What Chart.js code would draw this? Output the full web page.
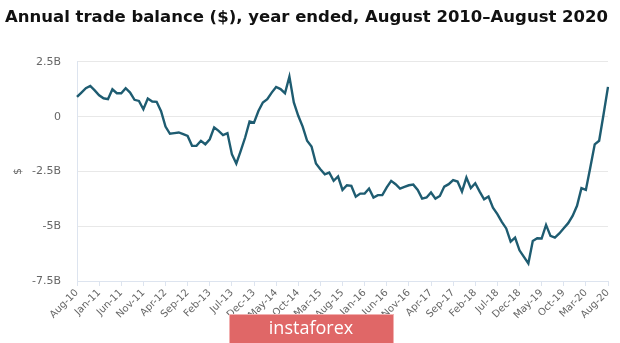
<!DOCTYPE html>
<html>
<head>
<meta charset="utf-8">
<script src="https://cdn.jsdelivr.net/npm/chart.js@4"></script>
<style>
  body { margin: 0; background: #fff; }
  canvas { display: block; }
</style>
</head>
<body>
<canvas id="tradeChart" width="620" height="343"></canvas>
<script>
// Annual trade balance, billions of dollars, one value per month (Aug 2010 .. Aug 2020)
const balance = [
  0.90, 1.10, 1.30, 1.40, 1.20, 0.98, 0.84, 0.80, 1.25, 1.07,
  1.07, 1.30, 1.10, 0.77, 0.72, 0.34, 0.83, 0.69, 0.68, 0.25,
  -0.45, -0.78, -0.75, -0.72, -0.80, -0.88, -1.33, -1.33, -1.10, -1.26,
  -1.03, -0.49, -0.65, -0.84, -0.75, -1.71, -2.14, -1.56, -0.95, -0.22,
  -0.27, 0.26, 0.65, 0.80, 1.10, 1.36, 1.26, 1.07, 1.83, 0.65,
  0.04, -0.45, -1.10, -1.36, -2.14, -2.40, -2.63, -2.55, -2.93, -2.73,
  -3.34, -3.13, -3.16, -3.65, -3.51, -3.51, -3.28, -3.69, -3.58, -3.58,
  -3.23, -2.93, -3.08, -3.28, -3.20, -3.13, -3.10, -3.34, -3.74, -3.69,
  -3.46, -3.74, -3.62, -3.19, -3.08, -2.89, -2.96, -3.42, -2.78, -3.26,
  -3.04, -3.42, -3.77, -3.64, -4.15, -4.45, -4.80, -5.10, -5.70, -5.52,
  -6.10, -6.40, -6.70, -5.67, -5.55, -5.56, -4.94, -5.44, -5.52, -5.33,
  -5.09, -4.86, -4.53, -4.07, -3.26, -3.34, -2.32, -1.26, -1.10, 0.11,
  1.36
];

const monthNames = ['Jan', 'Feb', 'Mar', 'Apr', 'May', 'Jun', 'Jul', 'Aug', 'Sep', 'Oct', 'Nov', 'Dec'];
const yTicks = [-7.5, -5, -2.5, 0, 2.5];

// month labels like "Aug-10"
const months = [];
for (let i = 0; i < balance.length; i++) {
  const m = (7 + i) % 12;
  const y = 10 + Math.floor((7 + i) / 12);
  months.push(monthNames[m] + '-' + String(y).padStart(2, '0'));
}

const axisGrey = '#666';
const axisBlue = '#dde4ef';

// red "instaforex" badge over the bottom axis
const badge = {
  id: 'badge',
  afterDraw(chart) {
    const ctx = chart.ctx;
    ctx.save();
    ctx.fillStyle = '#e06767';
    ctx.fillRect(229, 314, 165, 30);
    ctx.strokeStyle = '#f2b0b0';
    ctx.lineWidth = 1;
    ctx.strokeRect(229.5, 314.5, 164, 30);
    ctx.fillStyle = '#fff';
    ctx.font = '18px "Open Sans"';
    ctx.textAlign = 'center';
    ctx.textBaseline = 'middle';
    ctx.fillText('instaforex', 311, 329);
    ctx.restore();
  }
};

const ctx = document.getElementById('tradeChart').getContext('2d');
const tradeChart = new Chart(ctx, {
  type: 'line',
  data: {
    labels: months,
    datasets: [{
      data: balance,
      borderColor: '#1e5c71',
      borderWidth: 2.4,
      pointRadius: 0,
      fill: false,
      tension: 0
    }]
  },
  options: {
    responsive: false,
    animation: false,
    layout: { padding: { left: 5, right: 12, top: 0, bottom: 0 } },
    plugins: {
      legend: { display: false },
      tooltip: { enabled: false },
      title: {
        display: true,
        text: 'Annual trade balance ($), year ended, August 2010–August 2020',
        align: 'start',
        color: '#111',
        font: { family: 'DejaVu Sans', weight: 'bold', size: 16.6 },
        padding: { top: 8, bottom: 34 }
      }
    },
    scales: {
      x: {
        type: 'category',
        offset: false,
        border: { color: axisBlue },
        grid: { drawOnChartArea: false, drawTicks: true, tickLength: 5, color: axisBlue },
        ticks: {
          autoSkip: false,
          maxRotation: 45,
          minRotation: 45,
          padding: 1,
          color: axisGrey,
          font: { family: 'DejaVu Sans', size: 10 },
          callback: function (v, i) {
            return i % 5 === 0 ? this.getLabelForValue(v) : null;
          }
        },
        afterFit(scale) { scale.height = 62; }
      },
      y: {
        min: -7.5,
        max: 2.5,
        border: { color: axisBlue },
        grid: { color: '#e8e8e8', drawTicks: false },
        afterBuildTicks(scale) { scale.ticks = yTicks.map(v => ({ value: v })); },
        ticks: {
          padding: 16,
          color: axisGrey,
          font: { family: 'DejaVu Sans', size: 11 },
          callback: v => (v === 0 ? '0' : v + 'B')
        },
        title: {
          display: true,
          text: '$',
          color: axisGrey,
          font: { family: 'DejaVu Sans', size: 11 },
          padding: { top: 7, bottom: 0 }
        },
        afterFit(scale) { scale.width = 72; }
      }
    }
  },
  plugins: [badge]
});
</script>
</body>
</html>
